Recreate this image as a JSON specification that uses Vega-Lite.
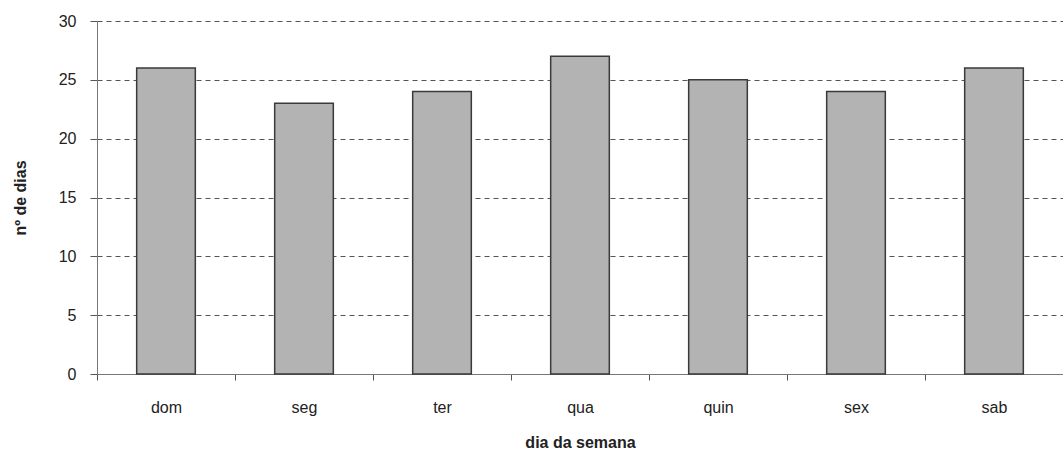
{
  "$schema": "https://vega.github.io/schema/vega-lite/v6.json",
  "width": 966,
  "height": 353,
  "autosize": {"type": "none"},
  "padding": {"left": 97, "top": 21, "right": 0, "bottom": 82},
  "background": "white",
  "config": {"view": {"stroke": null}, "font": "Liberation Sans"},
  "data": {"values": [
    {"dia": "dom", "n": 26},
    {"dia": "seg", "n": 23},
    {"dia": "ter", "n": 24},
    {"dia": "qua", "n": 27},
    {"dia": "quin", "n": 25},
    {"dia": "sex", "n": 24},
    {"dia": "sab", "n": 26}
  ]},
  "mark": {"type": "bar", "fill": "#b3b3b3", "stroke": "#3a3a3a", "strokeWidth": 1.5, "width": {"band": 0.425}},
  "encoding": {
    "x": {
      "field": "dia", "type": "nominal", "sort": null,
      "scale": {"paddingInner": 0, "paddingOuter": 0},
      "axis": {
        "title": "dia da semana", "titleFontSize": 16, "titleFontWeight": "bold", "titleColor": "#222", "titlePadding": 19,
        "labelAngle": 0, "labelFontSize": 16, "labelColor": "#222", "labelPadding": 19,
        "tickBand": "extent", "tickSize": 6, "tickColor": "#555", "domainColor": "#777", "grid": false
      }
    },
    "y": {
      "field": "n", "type": "quantitative",
      "scale": {"domain": [0, 30], "nice": false},
      "axis": {
        "title": "nº de dias", "titleFontSize": 16, "titleFontWeight": "bold", "titleColor": "#222", "titlePadding": 30,
        "values": [0, 5, 10, 15, 20, 25, 30],
        "labelFontSize": 16, "labelColor": "#222", "labelPadding": 14,
        "tickSize": 7, "tickColor": "#555", "domainColor": "#777",
        "grid": true, "gridColor": "#555", "gridDash": [5, 4], "gridWidth": 1
      }
    }
  }
}
